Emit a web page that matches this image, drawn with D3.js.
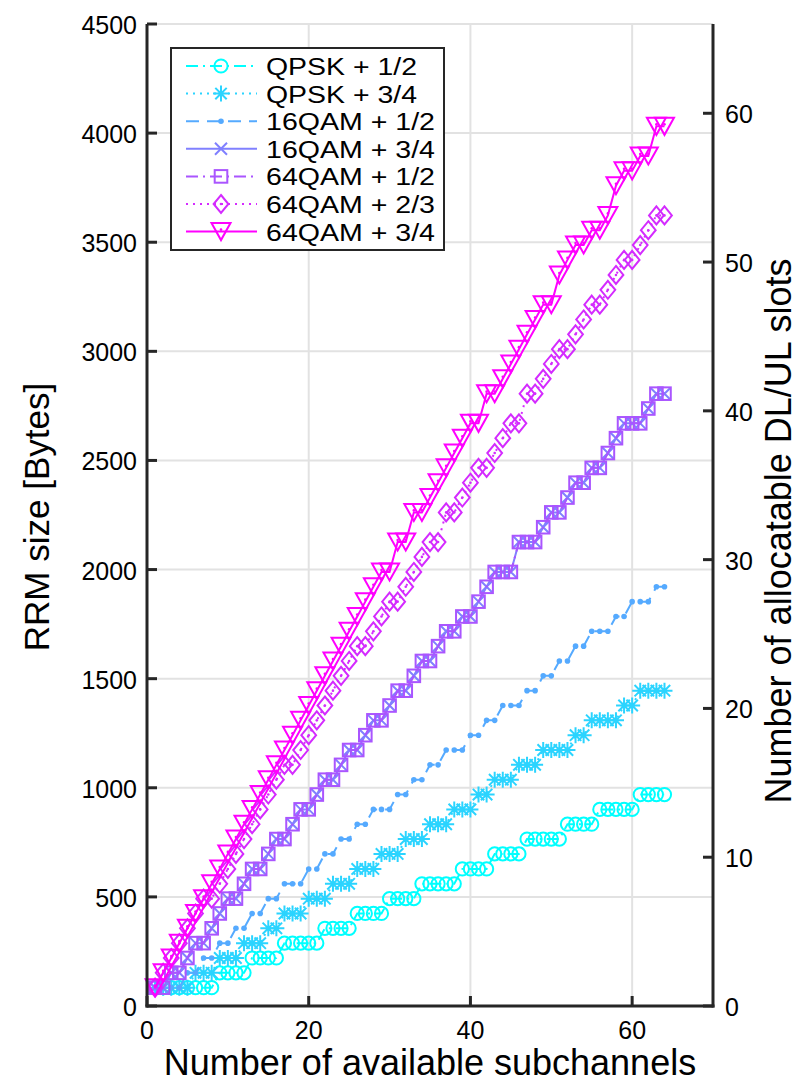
<!DOCTYPE html>
<html><head><meta charset="utf-8">
<script src="https://cdn.jsdelivr.net/npm/d3@7"></script>
<style>
body{margin:0;background:#fff}
text{font-family:"Liberation Sans",Arial,Helvetica,sans-serif;fill:#000}
</style></head>
<body><svg id="chart" width="802" height="1085"></svg>
<script>
// ---------- data ----------
const subchannels = [1,2,3,4,5,6,7,8,9,10,11,12,13,14,15,16,17,18,19,20,21,22,23,24,25,26,27,28,29,30,31,32,
  33,34,35,36,37,38,39,40,41,42,43,44,45,46,47,48,49,50,51,52,53,54,55,56,57,58,59,60,61,62,63,64];

const qpsk12 = [84,84,84,84,84,84,84,84,152,152,152,152,220,220,220,220,288,288,288,288,288,356,356,356,356,
  424,424,424,424,492,492,492,492,560,560,560,560,560,628,628,628,628,697,697,697,697,765,765,765,765,765,
  833,833,833,833,901,901,901,901,901,969,969,969,969];
const qpsk34 = [84,84,84,84,84,152,152,152,220,220,220,288,288,288,356,356,424,424,424,492,492,492,560,560,560,
  628,628,628,697,697,697,765,765,765,833,833,833,901,901,901,969,969,1037,1037,1037,1105,1105,1105,
  1173,1173,1173,1173,1241,1241,1309,1309,1309,1309,1377,1377,1445,1445,1445,1445];
const qam16_12 = [84,84,84,84,152,152,220,220,288,288,356,356,424,424,492,492,560,560,560,628,628,697,697,
  765,765,833,833,901,901,901,969,969,1037,1037,1105,1105,1173,1173,1173,1241,1241,1309,1309,1377,1377,1377,
  1445,1445,1513,1513,1581,1581,1649,1649,1717,1717,1717,1785,1785,1853,1853,1853,1921,1921];
const qam16_34 = [84,84,152,152,220,288,288,356,424,492,492,560,628,628,697,765,765,833,901,901,
  969,1037,1037,1105,1173,1173,1241,1309,1309,1377,1445,1445,1513,1581,1581,1649,1717,1717,1785,1785,
  1853,1921,1989,1989,1989,2126,2126,2126,2194,2262,2262,2330,2398,2398,2466,2466,2534,2602,2670,2670,
  2670,2738,2806,2806];
const qam64_12 = [84,84,152,152,220,288,288,356,424,492,492,560,628,628,697,765,765,833,901,901,
  969,1037,1037,1105,1173,1173,1241,1309,1309,1377,1445,1445,1513,1581,1581,1649,1717,1717,1785,1785,
  1853,1921,1989,1989,1989,2126,2126,2126,2194,2262,2262,2330,2398,2398,2466,2466,2534,2602,2670,2670,
  2670,2738,2806,2806];
const qam64_23 = [84,152,220,288,356,424,492,492,560,628,697,765,833,901,969,1037,1105,1105,1173,1241,
  1309,1377,1445,1513,1581,1649,1649,1717,1785,1853,1853,1921,1989,2058,2126,2126,2262,2262,2330,2398,
  2466,2466,2534,2602,2670,2670,2806,2806,2874,2942,3010,3010,3078,3146,3214,3214,3282,3350,3419,3419,
  3487,3555,3623,3623];
const qam64_34 = [84,152,220,288,356,424,492,560,628,697,765,833,901,969,1037,1105,1173,1241,1309,1377,
  1445,1513,1581,1649,1717,1785,1853,1921,1989,1989,2126,2126,2262,2262,2330,2398,2466,2534,2602,2670,
  2670,2806,2806,2874,2942,3010,3078,3146,3214,3214,3350,3419,3487,3487,3555,3555,3623,3759,3827,3827,
  3895,3895,4031,4031];

const seriesNames = ["QPSK + 1/2","QPSK + 3/4","16QAM + 1/2","16QAM + 3/4","64QAM + 1/2","64QAM + 2/3","64QAM + 3/4"];
const xTicks = [0,20,40,60];
const yTicks = [0,500,1000,1500,2000,2500,3000,3500,4000,4500];
const y2Ticks = [0,10,20,30,40,50,60];

// ---------- styling ----------
const colors = ["#00ffff","#2bd4ff","#55aaff","#8080ff","#aa55ff","#d42bff","#ff00ff"];
const dashes = ["12,5,2,5","2,5","13,8",null,"12,5,2,5","2,5",null];
const markers = ["circle","star","point","x","square","diamond","triangle"];
const seriesData = [qpsk12,qpsk34,qam16_12,qam16_34,qam64_12,qam64_23,qam64_34];

const svg = d3.select("#chart");
const L = 147, R = 713, T = 24, B = 1006;
const x = d3.scaleLinear().domain([0,70]).range([L,R]);
const y = d3.scaleLinear().domain([0,4500]).range([B,T]);
const y2 = d3.scaleLinear().domain([0,66]).range([B,T]);

// grid
const grid = svg.append("g");
grid.selectAll("line.v").data(xTicks.filter(d=>d>0)).join("line")
  .attr("x1",d=>x(d)).attr("x2",d=>x(d)).attr("y1",T).attr("y2",B)
  .attr("stroke","#e2e2e2").attr("stroke-width",2);
grid.selectAll("line.h").data(yTicks.filter(d=>d>0)).join("line")
  .attr("x1",L).attr("x2",R).attr("y1",d=>y(d)).attr("y2",d=>y(d))
  .attr("stroke","#e2e2e2").attr("stroke-width",2);

function drawMarker(g, type, cx, cy, color){
  const sw = 2;
  if(type==="circle"){
    g.append("circle").attr("cx",cx).attr("cy",cy).attr("r",6.6).attr("fill","none").attr("stroke",color).attr("stroke-width",sw);
  } else if(type==="star"){
    const a=8, b=5.7;
    g.append("path").attr("d",`M${cx-a},${cy}H${cx+a}M${cx},${cy-a}V${cy+a}M${cx-b},${cy-b}L${cx+b},${cy+b}M${cx-b},${cy+b}L${cx+b},${cy-b}`)
      .attr("stroke",color).attr("stroke-width",sw).attr("fill","none");
  } else if(type==="point"){
    g.append("circle").attr("cx",cx).attr("cy",cy).attr("r",2.8).attr("fill",color);
  } else if(type==="x"){
    const a=6;
    g.append("path").attr("d",`M${cx-a},${cy-a}L${cx+a},${cy+a}M${cx-a},${cy+a}L${cx+a},${cy-a}`)
      .attr("stroke",color).attr("stroke-width",sw).attr("fill","none");
  } else if(type==="square"){
    const a=6.3;
    g.append("rect").attr("x",cx-a).attr("y",cy-a).attr("width",2*a).attr("height",2*a)
      .attr("stroke",color).attr("stroke-width",sw).attr("fill","none");
  } else if(type==="diamond"){
    const a=9;
    g.append("path").attr("d",`M${cx},${cy-a}L${cx+a*0.82},${cy}L${cx},${cy+a}L${cx-a*0.82},${cy}Z`)
      .attr("stroke",color).attr("stroke-width",sw).attr("fill","none");
    g.append("circle").attr("cx",cx).attr("cy",cy).attr("r",1.3).attr("fill",color);
  } else if(type==="triangle"){
    const w=9.5, h=8.5;
    g.append("path").attr("d",`M${cx-w},${cy-h}L${cx+w},${cy-h}L${cx},${cy+h}Z`)
      .attr("stroke",color).attr("stroke-width",sw).attr("fill","none");
    g.append("circle").attr("cx",cx).attr("cy",cy-2).attr("r",1.3).attr("fill",color);
  }
}

const line = d3.line().x(d=>x(d[0])).y(d=>y(d[1]));
const plot = svg.append("g");
seriesData.forEach((vals,i)=>{
  const pts = subchannels.map((s,k)=>[s,vals[k]]);
  const g = plot.append("g");
  g.append("path").attr("d",line(pts)).attr("fill","none").attr("stroke",colors[i])
    .attr("stroke-width",2).attr("stroke-dasharray",dashes[i]);
  pts.forEach(p=>drawMarker(g, markers[i], x(p[0]), y(p[1]), colors[i]));
});

// axes
const axisColor = "#262626";
const ax = svg.append("g");
ax.append("line").attr("x1",L).attr("x2",L).attr("y1",T).attr("y2",B+1.5).attr("stroke",axisColor).attr("stroke-width",3);
ax.append("line").attr("x1",R).attr("x2",R).attr("y1",T).attr("y2",B+1.5).attr("stroke",axisColor).attr("stroke-width",3);
ax.append("line").attr("x1",L-1.5).attr("x2",R+1.5).attr("y1",B).attr("y2",B).attr("stroke",axisColor).attr("stroke-width",3);
ax.selectAll("line.yt").data(yTicks).join("line").attr("x1",L).attr("x2",L+10)
  .attr("y1",d=>y(d)).attr("y2",d=>y(d)).attr("stroke",axisColor).attr("stroke-width",3);
ax.selectAll("text.yl").data(yTicks).join("text").attr("x",L-10).attr("y",d=>y(d)+1)
  .attr("text-anchor","end").attr("dominant-baseline","central").attr("font-size",25).text(d=>d);
ax.selectAll("line.xt").data(xTicks).join("line").attr("x1",d=>x(d)).attr("x2",d=>x(d))
  .attr("y1",B).attr("y2",B-10).attr("stroke",axisColor).attr("stroke-width",3);
ax.selectAll("text.xl").data(xTicks).join("text").attr("x",d=>x(d)).attr("y",B+24)
  .attr("text-anchor","middle").attr("dominant-baseline","central").attr("font-size",25).text(d=>d);
ax.selectAll("line.y2t").data(y2Ticks).join("line").attr("x1",R).attr("x2",R-10)
  .attr("y1",d=>y2(d)).attr("y2",d=>y2(d)).attr("stroke",axisColor).attr("stroke-width",3);
ax.selectAll("text.y2l").data(y2Ticks).join("text").attr("x",R+12).attr("y",d=>y2(d)+1)
  .attr("text-anchor","start").attr("dominant-baseline","central").attr("font-size",25).text(d=>d);

// axis labels
svg.append("text").attr("x",(L+R)/2).attr("y",1062).attr("text-anchor","middle")
  .attr("dominant-baseline","central").attr("font-size",36).text("Number of available subchannels");
svg.append("text").attr("transform",`translate(36,${(T+B)/2+2}) rotate(-90)`).attr("text-anchor","middle")
  .attr("dominant-baseline","central").attr("font-size",35).text("RRM size [Bytes]");
svg.append("text").attr("transform",`translate(778,${(T+B)/2+16}) rotate(-90)`).attr("text-anchor","middle")
  .attr("dominant-baseline","central").attr("font-size",36).text("Number of allocatable DL/UL slots");

// legend
const lg = svg.append("g");
lg.append("rect").attr("x",171).attr("y",48).attr("width",273).attr("height",202)
  .attr("fill","#fff").attr("stroke",axisColor).attr("stroke-width",2);
seriesNames.forEach((name,i)=>{
  const cy = 66 + i*27.6;
  const g = lg.append("g");
  g.append("line").attr("x1",186).attr("x2",257).attr("y1",cy).attr("y2",cy)
    .attr("stroke",colors[i]).attr("stroke-width",2).attr("stroke-dasharray",dashes[i]);
  drawMarker(g, markers[i], 221, cy, colors[i]);
  g.append("text").attr("x",266).attr("y",cy+1).attr("dominant-baseline","central")
    .attr("font-size",23.5).attr("textLength", name.startsWith("QPSK") ? 151 : 169)
    .attr("lengthAdjust","spacingAndGlyphs").text(name);
});
</script></body></html>
